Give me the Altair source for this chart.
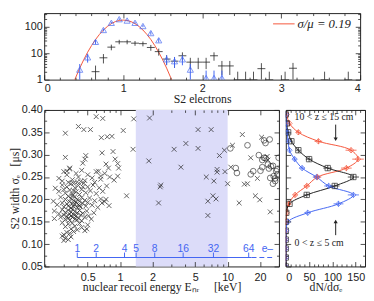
import json
import altair as alt
import pandas as pd

SANS = "Liberation Sans"
SERIF = "Liberation Serif"
RED = "#f5553a"
BLUE = "#4466f2"
BAND = "#dcdcf9"
INK = "#222222"
NB = "\u00a0"

# ---------------- top panel: S2 electrons ----------------
curve_x = [0.35, 0.40, 0.45, 0.50, 0.55, 0.60, 0.65, 0.70, 0.75, 0.80, 0.85, 0.90, 0.95, 1.00,
           1.05, 1.10, 1.15, 1.20, 1.25, 1.30, 1.35, 1.40, 1.45, 1.50, 1.55, 1.60, 1.65]
curve_y = [0.52, 1.23, 2.73, 5.64, 10.9, 19.6, 33.0, 51.7, 75.7, 103, 132, 157, 174, 180,
           174, 157, 132, 103, 75.7, 51.7, 33.0, 19.6, 10.9, 5.64, 2.73, 1.23, 0.52]

tri_x = [0.45, 0.55, 0.65, 0.75, 0.85, 0.95, 1.05, 1.15, 1.25, 1.35, 1.45, 1.55, 1.65, 1.75, 1.85, 2.05, 2.15, 2.25]
tri_y = [2.4, 7, 27, 76, 142, 195, 173, 142, 107, 58, 31, 5.9, 5.0, 5.9, 2.4, 1.15, 1.15, 1.15]
tri_lo = [0.9, 4.4, 22, 67, 130, 181, 160, 130, 97, 50, 25.5, 3.5, 2.8, 3.5, 0.9, 0.5, 0.5, 0.5]
tri_hi = [3.9, 9.6, 32, 85, 154, 209, 186, 154, 117, 66, 36.5, 8.3, 7.2, 8.3, 3.9, 2.2, 2.2, 2.2]

blk_x = [0.65, 0.75, 0.85, 0.95, 1.05, 1.15, 1.25, 1.35, 1.45, 1.55, 1.65, 1.75, 1.85, 1.95,
         2.05, 2.15, 2.25, 2.35, 2.45, 2.55, 2.65, 2.75, 2.85, 3.05, 3.15, 3.55, 3.85]
blk_y = [2, 6.7, 17, 27, 27, 24, 23, 16.5, 11.5, 6, 5, 8, 4.6, 4.6,
         4.6, 8, 3.3, 3.3, 1, 1, 1, 2.6, 1, 1, 2.7, 1, 1]
blk_lo = [0.6, 4.1, 12.9, 21.8, 21.8, 19.1, 18.2, 12.4, 8.1, 3.6, 2.8, 5.2, 2.5, 2.5,
          2.5, 5.2, 1.5, 1.5, 0.5, 0.5, 0.5, 1, 0.5, 0.5, 1, 0.5, 0.5]
blk_hi = [3.4, 9.3, 21.1, 32.2, 32.2, 28.9, 27.8, 20.6, 14.9, 8.4, 7.2, 10.8, 6.7, 6.7,
          6.7, 10.8, 5.1, 5.1, 2, 2, 2, 4.2, 2, 2, 4.3, 2, 2]
BIN_HALF = 0.05

# ---------------- bottom-left: width vs energy ----------------
A_E = [0.27, 0.30, 0.32, 0.34, 0.36, 0.39, 0.41, 0.44, 0.47, 0.50, 0.55, 0.60, 0.66, 0.72, 0.80, 0.88, 0.37, 0.43, 0.29, 0.58]
A_w = [0.247, 0.262, 0.255, 0.268, 0.244, 0.258, 0.250, 0.265, 0.242, 0.255, 0.248, 0.262, 0.245, 0.258, 0.250, 0.243, 0.236, 0.240, 0.241, 0.238]
B_E = [0.25, 0.27, 0.29, 0.31, 0.32, 0.34, 0.35, 0.36, 0.38, 0.39, 0.41, 0.42, 0.44, 0.46, 0.48, 0.50, 0.53, 0.56, 0.60, 0.64, 0.69, 0.75, 0.33, 0.40, 0.30, 0.37, 0.45]
B_w = [0.225, 0.218, 0.232, 0.214, 0.228, 0.221, 0.235, 0.212, 0.226, 0.217, 0.231, 0.211, 0.222, 0.236, 0.215, 0.228, 0.219, 0.232, 0.213, 0.226, 0.218, 0.230, 0.238, 0.239, 0.222, 0.219, 0.228]
C_E = [0.24, 0.26, 0.28, 0.29, 0.30, 0.31, 0.32, 0.33, 0.33, 0.34, 0.35, 0.35, 0.36, 0.37, 0.37, 0.38, 0.38, 0.39, 0.40, 0.40,
       0.41, 0.42, 0.43, 0.44, 0.45, 0.47, 0.48, 0.50, 0.52, 0.55, 0.58, 0.62, 0.68, 0.74, 0.79, 0.36, 0.42, 0.72, 0.66]
C_w = [0.196, 0.188, 0.205, 0.192, 0.183, 0.200, 0.190, 0.207, 0.185, 0.195, 0.181, 0.202, 0.190, 0.197, 0.184, 0.206, 0.189, 0.194, 0.182, 0.200,
       0.188, 0.196, 0.183, 0.204, 0.191, 0.198, 0.185, 0.193, 0.203, 0.187, 0.197, 0.182, 0.192, 0.200, 0.186, 0.208, 0.186, 0.195, 0.201]
D_E = [0.245, 0.245, 0.27, 0.28, 0.29, 0.30, 0.31, 0.31, 0.32, 0.33, 0.34, 0.34, 0.35, 0.36, 0.36, 0.37, 0.38, 0.38, 0.39, 0.40,
       0.41, 0.42, 0.43, 0.44, 0.45, 0.47, 0.49, 0.51, 0.54, 0.57, 0.33, 0.40, 0.35]
D_w = [0.174, 0.157, 0.168, 0.160, 0.177, 0.165, 0.171, 0.155, 0.162, 0.176, 0.167, 0.153, 0.172, 0.160, 0.178, 0.166, 0.156, 0.173, 0.163, 0.170,
       0.158, 0.175, 0.165, 0.152, 0.169, 0.160, 0.174, 0.163, 0.156, 0.170, 0.158, 0.154, 0.163]
E_E = [0.29, 0.31, 0.32, 0.33, 0.35, 0.36, 0.37, 0.38, 0.40, 0.42, 0.44, 0.47, 0.49, 0.50, 0.30, 0.34, 0.29, 0.31, 0.33, 0.35, 0.30]
E_w = [0.148, 0.139, 0.126, 0.145, 0.134, 0.147, 0.128, 0.140, 0.132, 0.146, 0.137, 0.130, 0.134, 0.143, 0.121, 0.124, 0.118, 0.113, 0.110, 0.116, 0.108]
S_E = [0.60, 0.69, 1.34, 1.88, 0.41, 0.46, 0.53, 0.31, 1.07, 0.67, 0.76, 0.84, 1.32, 1.85, 0.31, 0.48, 0.47, 0.45, 0.68, 0.86,
       0.90, 0.95, 0.97, 0.74, 0.78, 0.95, 0.63, 0.66, 0.34, 0.32, 3.18, 4.09, 3.68, 2.39, 2.36, 2.28, 1.15, 5.31, 7.03, 5.31,
       8.39, 9.33, 13.7, 6.33, 7.98, 7.98, 7.45, 9.45, 10.0, 10.7, 7.3, 7.8, 6.55, 6.55, 12.8, 14.3, 15.3, 18.1, 19.9, 24.9,
       16.4, 20.7, 18.9, 23.3, 11.1, 23.7]
S_w = [0.385, 0.381, 0.380, 0.382, 0.363, 0.356, 0.356, 0.348, 0.354, 0.338, 0.340, 0.341, 0.312, 0.286, 0.294, 0.298, 0.290, 0.281, 0.304, 0.307,
       0.290, 0.280, 0.270, 0.279, 0.270, 0.252, 0.263, 0.252, 0.270, 0.263, 0.312, 0.325, 0.272, 0.232, 0.228, 0.192, 0.208, 0.356, 0.356, 0.314,
       0.298, 0.310, 0.345, 0.250, 0.267, 0.261, 0.241, 0.262, 0.235, 0.272, 0.208, 0.201, 0.196, 0.164, 0.192, 0.234, 0.235, 0.208, 0.199, 0.172,
       0.293, 0.339, 0.247, 0.296, 0.321, 0.288]
circ_E = [10.6, 15.3, 21.8, 24.6, 22.5, 19.5, 21.8, 21.0, 22.5, 23.7, 25.3, 29.8, 11.9, 12.2, 17.3, 20.2, 21.0, 24.9, 26.4, 27.7,
          28.3, 29.1, 24.2, 16.4, 26.4, 28.8, 26.8, 27.7]
circ_w = [0.314, 0.321, 0.332, 0.334, 0.326, 0.299, 0.293, 0.288, 0.292, 0.278, 0.274, 0.293, 0.270, 0.259, 0.263, 0.264, 0.272, 0.248, 0.235, 0.247,
          0.263, 0.256, 0.269, 0.256, 0.275, 0.267, 0.252, 0.241]
band_E = [1.40, 10.0]
e_n = [1, 2, 4, 5, 8, 16, 32, 64]
e_E = [0.40, 0.60, 1.10, 1.41, 2.10, 3.86, 7.38, 15.7]
e_line_end = 16.7
e_dash_end = 27.0
e_sym_E = 23.4

# ---------------- bottom-right: dN/dsigma ----------------
s_bins = [0.05, 0.07, 0.09, 0.11, 0.13, 0.15, 0.17, 0.19, 0.21, 0.23, 0.25, 0.27, 0.29, 0.31, 0.33, 0.35, 0.37, 0.39]
red_n = [0, 0, 0, 0, 0, 0, 2, 6, 20, 45, 68, 130, 155, 140, 70, 27, 8, 2]
black_n = [0, 0, 0, 0, 0, 0, 1, 8, 45, 105, 145, 90, 50, 27, 12, 5, 2, 0]
blue_n = [0, 0, 0, 0, 1, 5, 47, 113, 145, 92, 66, 35, 19, 8, 5, 3, 1, 0]
red_e = [0, 0, 0, 0, 0, 0, 1.4, 2.4, 4.5, 6.7, 8.2, 11.4, 12.4, 11.8, 8.4, 5.2, 2.8, 1.4]
black_e = [0, 0, 0, 0, 0, 0, 1, 2.8, 6.7, 10.2, 12, 9.5, 7.1, 5.2, 3.5, 2.2, 1.4, 0]
blue_e = [0, 0, 0, 0, 1, 2.2, 6.9, 10.6, 12, 9.6, 8.1, 5.9, 4.4, 2.8, 2.2, 1.7, 1, 0]
S_HALF = 0.006

# ---------------- layout ----------------
TOP_W, TOP_H = 323, 68
BL_W, BL_H = 240, 160
BR_W, BR_H = 81, 160
YEXT = 23

xs_top = alt.Scale(domain=[0, 4], nice=False, zero=False)
ys_top = alt.Scale(type="log", domain=[1, 330], nice=False)
xs_bl = alt.Scale(type="log", domain=[0.197, 30.0], nice=False)
ys_bl = alt.Scale(domain=[0.05, 0.40], nice=False, zero=False)
xs_br = alt.Scale(domain=[0, 170], nice=False, zero=False)


def tsize(major, big=5, small=2.5):
    return {"condition": {"test": "indexof(%s, datum.value) >= 0" % json.dumps(major), "value": big},
            "value": small}


def frame_ticks(xsc, ysc, W, H, xv, xm, yv, ym, px, py):
    d = pd.DataFrame({"fx": [px], "fy": [py]})
    base = dict(labels=False, domain=False, grid=False, title=None, zindex=2,
                tickColor=INK, tickWidth=0.8)
    out = []
    for xo, yo in (("top", "right"), ("bottom", "left")):
        out.append(alt.Chart(d).mark_point(opacity=0).encode(
            x=alt.X("fx:Q", scale=xsc, axis=alt.Axis(orient=xo, offset=-H, values=xv, tickSize=tsize(xm), **base)),
            y=alt.Y("fy:Q", scale=ysc, axis=alt.Axis(orient=yo, offset=-W, values=yv, tickSize=tsize(ym), **base)),
        ))
    return out


one = pd.DataFrame({"a": [0]})

# ----- top panel -----
df_curve = pd.DataFrame({"x": curve_x, "y": curve_y})
df_blk = pd.DataFrame({"x": blk_x, "y": blk_y, "lo": blk_lo, "hi": blk_hi})
df_blk["xl"] = df_blk["x"] - BIN_HALF
df_blk["xr"] = df_blk["x"] + BIN_HALF
df_tri = pd.DataFrame({"x": tri_x, "y": tri_y, "lo": tri_lo, "hi": tri_hi})

top_x_axis = alt.Axis(orient="bottom", values=[0, 1, 2, 3, 4], format="d", ticks=False, domain=False,
                      grid=False, labelPadding=3, title="S2 electrons", titlePadding=0)
top_y_axis = alt.Axis(orient="left", values=[1, 10, 100], format="d", ticks=False, domain=False, grid=False,
                      labelPadding=2, minExtent=YEXT, maxExtent=YEXT, title="S2", titleOpacity=0, titlePadding=0)

curve = alt.Chart(df_curve).mark_line(color=RED, strokeWidth=1, clip=True).encode(
    x=alt.X("x:Q", scale=xs_top, axis=top_x_axis),
    y=alt.Y("y:Q", scale=ys_top, axis=top_y_axis))
blk_h = alt.Chart(df_blk).mark_rule(color=INK, strokeWidth=0.8, clip=True).encode(
    x=alt.X("xl:Q", scale=xs_top, axis=None), x2="xr:Q",
    y=alt.Y("y:Q", scale=ys_top, axis=None))
blk_v = alt.Chart(df_blk).mark_rule(color=INK, strokeWidth=0.8, clip=True).encode(
    x=alt.X("x:Q", scale=xs_top, axis=None),
    y=alt.Y("lo:Q", scale=ys_top, axis=None), y2="hi:Q")
tri_v = alt.Chart(df_tri).mark_rule(color=BLUE, strokeWidth=1, clip=True).encode(
    x=alt.X("x:Q", scale=xs_top, axis=None),
    y=alt.Y("lo:Q", scale=ys_top, axis=None), y2="hi:Q")
tri_p = alt.Chart(df_tri).mark_point(shape="triangle-up", filled=False, color=BLUE, size=40,
                                     strokeWidth=1, clip=True).encode(
    x=alt.X("x:Q", scale=xs_top, axis=None),
    y=alt.Y("y:Q", scale=ys_top, axis=None))
leg_rule = alt.Chart(one).mark_rule(color=RED, strokeWidth=1).encode(
    x=alt.value(234), x2=alt.value(256), y=alt.value(11))
leg_text = alt.Chart(one).mark_text(text="σ/μ = 0.19", font=SERIF, fontSize=13, fontStyle="italic",
                                    align="left", baseline="middle", color=INK).encode(
    x=alt.value(259), y=alt.value(11))

top_ticks = frame_ticks(xs_top, ys_top, TOP_W, TOP_H,
                        [round(0.2 * i, 1) for i in range(21)], [0, 1, 2, 3, 4],
                        [1, 2, 3, 4, 5, 6, 7, 8, 9, 10, 20, 30, 40, 50, 60, 70, 80, 90, 100, 200, 300],
                        [1, 10, 100], 2, 10)

top = alt.layer(curve, blk_h, blk_v, tri_v, tri_p, leg_rule, leg_text, *top_ticks).properties(
    width=TOP_W, height=TOP_H)

# ----- bottom-left panel -----
df_x = pd.DataFrame({"E": A_E + B_E + C_E + D_E + E_E + S_E, "w": A_w + B_w + C_w + D_w + E_w + S_w})
df_o = pd.DataFrame({"E": circ_E, "w": circ_w})
df_band = pd.DataFrame({"e0": [band_E[0]], "e1": [band_E[1]]})
df_e = pd.DataFrame({"E": e_E, "lab": [str(n) for n in e_n], "y0": 0.070, "y1": 0.081, "ly": 0.088})

bl_x_axis = alt.Axis(orient="bottom", values=[0.5, 1, 2, 5, 10, 20], format="~g", ticks=False, domain=False,
                     grid=False, labelPadding=5,
                     title="nuclear recoil energy Eₙᵣ" + NB * 5 + "[keV]", titlePadding=0)
bl_y_axis = alt.Axis(orient="left", values=[round(0.05 * k, 2) for k in range(1, 9)], format=".2f", ticks=False,
                     domain=False, grid=False, labelPadding=2, minExtent=YEXT, maxExtent=YEXT,
                     title="S2 width σₑ" + NB * 3 + "[μs]", titlePadding=0)

band = alt.Chart(df_band).mark_rect(color=BAND).encode(
    x=alt.X("e0:Q", scale=xs_bl, axis=None), x2="e1:Q",
    y=alt.value(0), y2=alt.value(BL_H))
crosses = alt.Chart(df_x).mark_point(shape="M-1,-1L1,1M-1,1L1,-1", filled=False, size=24, color=INK,
                                     strokeWidth=1, clip=True).encode(
    x=alt.X("E:Q", scale=xs_bl, axis=bl_x_axis),
    y=alt.Y("w:Q", scale=ys_bl, axis=bl_y_axis))
circles = alt.Chart(df_o).mark_point(shape="circle", filled=False, size=34, color=INK,
                                     strokeWidth=0.9, clip=True).encode(
    x=alt.X("E:Q", scale=xs_bl, axis=None),
    y=alt.Y("w:Q", scale=ys_bl, axis=None))
e_line = alt.Chart(pd.DataFrame({"a": [e_E[0]], "b": [e_line_end], "y": [0.070]})).mark_rule(
    color=BLUE, strokeWidth=1.2).encode(
    x=alt.X("a:Q", scale=xs_bl, axis=None), x2="b:Q", y=alt.Y("y:Q", scale=ys_bl, axis=None))
e_dash = alt.Chart(pd.DataFrame({"a": [e_line_end], "b": [e_dash_end], "y": [0.070]})).mark_rule(
    color=BLUE, strokeWidth=1.2, strokeDash=[5, 3]).encode(
    x=alt.X("a:Q", scale=xs_bl, axis=None), x2="b:Q", y=alt.Y("y:Q", scale=ys_bl, axis=None))
e_ticks = alt.Chart(df_e).mark_rule(color=BLUE, strokeWidth=1).encode(
    x=alt.X("E:Q", scale=xs_bl, axis=None),
    y=alt.Y("y0:Q", scale=ys_bl, axis=None), y2="y1:Q")
e_labels = alt.Chart(df_e).mark_text(color=BLUE, font=SANS, fontSize=10.5, baseline="middle").encode(
    x=alt.X("E:Q", scale=xs_bl, axis=None),
    y=alt.Y("ly:Q", scale=ys_bl, axis=None), text="lab:N")
e_sym = alt.Chart(pd.DataFrame({"E": [e_sym_E], "y": [0.088]})).mark_text(
    text="e–", color=BLUE, font=SANS, fontSize=10.5, baseline="middle").encode(
    x=alt.X("E:Q", scale=xs_bl, axis=None), y=alt.Y("y:Q", scale=ys_bl, axis=None))

yv_sig = [round(0.05 + 0.025 * i, 3) for i in range(15)]
ym_sig = [round(0.05 * k, 2) for k in range(1, 9)]
bl_ticks = frame_ticks(xs_bl, ys_bl, BL_W, BL_H,
                       [0.2, 0.3, 0.4, 0.5, 0.6, 0.7, 0.8, 0.9, 1, 2, 3, 4, 5, 6, 7, 8, 9, 10, 20, 30],
                       [0.5, 1, 2, 5, 10, 20], yv_sig, ym_sig, 1, 0.2)

bl = alt.layer(band, crosses, circles, e_line, e_dash, e_ticks, e_labels, e_sym, *bl_ticks).properties(
    width=BL_W, height=BL_H)

# ----- bottom-right panel -----
rows = []
for name, ns, es in (("red", red_n, red_e), ("black", black_n, black_e), ("blue", blue_n, blue_e)):
    for s, n, e in zip(s_bins, ns, es):
        rows.append({"series": name, "s": s, "n": n, "nl": n - e, "nh": n + e,
                     "sl": s - S_HALF, "sh": s + S_HALF})
df_r = pd.DataFrame(rows)
col = alt.Color("series:N", scale=alt.Scale(domain=["red", "black", "blue"], range=[RED, INK, BLUE]), legend=None)
shp = alt.Shape("series:N", scale=alt.Scale(domain=["red", "black", "blue"], range=["diamond", "square", "diamond"]),
                legend=None)

br_x_axis = alt.Axis(orient="bottom", values=[0, 50, 100, 150], format="d", ticks=False, domain=False,
                     grid=False, labelPadding=5, title="dN/dσₑ", titlePadding=0)

r_lines = alt.Chart(df_r).mark_line(strokeWidth=1, interpolate="catmull-rom", clip=True).encode(
    x=alt.X("n:Q", scale=xs_br, axis=br_x_axis),
    y=alt.Y("s:Q", scale=ys_bl, axis=None), color=col, order=alt.Order("s:Q"))
r_eh = alt.Chart(df_r).mark_rule(strokeWidth=0.8, clip=True).encode(
    x=alt.X("nl:Q", scale=xs_br, axis=None), x2="nh:Q",
    y=alt.Y("s:Q", scale=ys_bl, axis=None), color=col)
r_ev = alt.Chart(df_r).mark_rule(strokeWidth=0.8, clip=True).encode(
    x=alt.X("n:Q", scale=xs_br, axis=None),
    y=alt.Y("sl:Q", scale=ys_bl, axis=None), y2="sh:Q", color=col)
r_pts = alt.Chart(df_r).mark_point(filled=False, size=30, strokeWidth=1, clip=True).encode(
    x=alt.X("n:Q", scale=xs_br, axis=None),
    y=alt.Y("s:Q", scale=ys_bl, axis=None), color=col, shape=shp)

ann_top = alt.Chart(one).mark_text(text="10 < z ≤ 15 cm", font=SERIF, fontSize=10, align="left",
                                   baseline="middle", color=INK).encode(x=alt.value(9), y=alt.value(7))
ann_bot = alt.Chart(one).mark_text(text="0 < z ≤ 5 cm", font=SERIF, fontSize=10, align="left",
                                   baseline="middle", color=INK).encode(x=alt.value(9), y=alt.value(136))
arr1 = alt.Chart(one).mark_rule(color=INK, strokeWidth=1).encode(
    x=alt.value(51), y=alt.value(15), y2=alt.value(29))
arr1h = alt.Chart(one).mark_point(shape="triangle-down", filled=True, color=INK, size=18, opacity=1).encode(
    x=alt.value(51), y=alt.value(30))
arr2 = alt.Chart(one).mark_rule(color=INK, strokeWidth=1).encode(
    x=alt.value(51), y=alt.value(128), y2=alt.value(115))
arr2h = alt.Chart(one).mark_point(shape="triangle-up", filled=True, color=INK, size=18, opacity=1).encode(
    x=alt.value(51), y=alt.value(114))

br_ticks = frame_ticks(xs_br, ys_bl, BR_W, BR_H, list(range(0, 171, 10)), [0, 50, 100, 150],
                       yv_sig, ym_sig, 10, 0.2)

br = alt.layer(r_lines, r_eh, r_ev, r_pts, ann_top, ann_bot, arr1, arr1h, arr2, arr2h, *br_ticks).properties(
    width=BR_W, height=BR_H)

bottom = alt.hconcat(bl, br, spacing=5)
chart = alt.vconcat(top, bottom, spacing=-2).properties(
    padding={"left": 0, "top": 1, "right": 0, "bottom": 0}
).configure_view(stroke=INK, strokeWidth=1).configure_axis(
    labelFont=SANS, labelFontSize=11, labelColor=INK,
    titleFont=SERIF, titleFontSize=12, titleFontWeight="normal", titleColor=INK,
)

chart.save("out.html", embed_options={"renderer": "svg", "actions": False})
